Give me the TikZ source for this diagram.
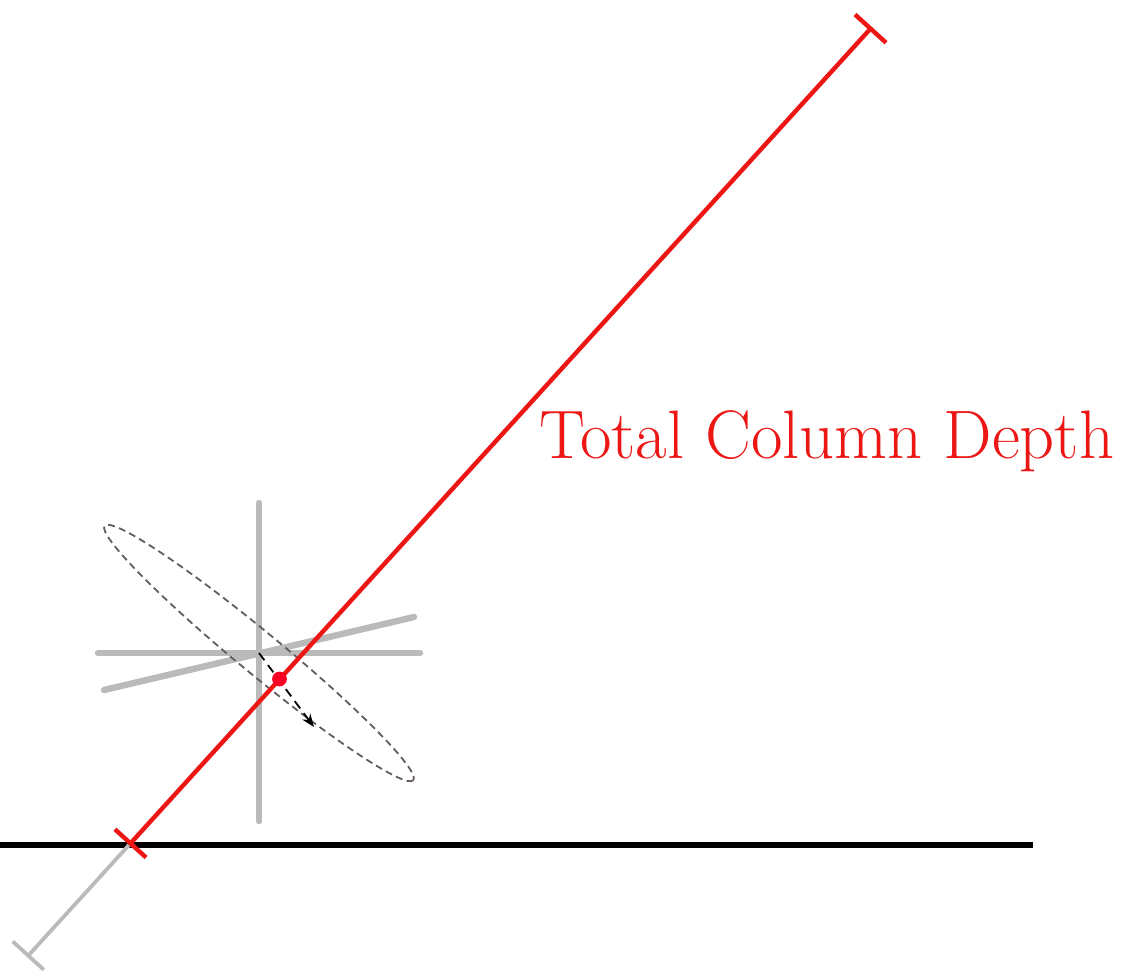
\documentclass[tikz,border=0pt]{standalone}
\usetikzlibrary{arrows.meta}
\definecolor{myred}{RGB}{236,22,20}
\definecolor{dotred}{RGB}{250,0,35}
\definecolor{lgray}{RGB}{186,186,186}
\definecolor{egray}{RGB}{100,92,92}
\begin{document}
\begin{tikzpicture}[x=0.5pt,y=-0.5pt,
  crossline/.style={lgray,line width=3.2pt,line cap=round},
  redline/.style={myred,line width=2.2pt},
  ellip/.style={egray,line width=0.9pt,dash pattern=on 3.5pt off 2.2pt},
  darrow/.style={black,line width=0.9pt,dash pattern=on 4.5pt off 3pt,-{Stealth[length=6.5pt,width=5pt]}}]
\useasboundingbox (0,0) rectangle (1123,975);
% coordinates
\coordinate (C) at (259,653);
\coordinate (V1) at (259,503);
\coordinate (V2) at (259,821);
\coordinate (H1) at (98,653);
\coordinate (H2) at (420,653);
\coordinate (S1) at (104,690);
\coordinate (S2) at (414,617);
\coordinate (G) at (129,845);
\coordinate (T) at (872,27);
\coordinate (B) at (27,957);
\coordinate (A) at (314,727);
\coordinate (P) at (279.5,679);
\coordinate (L1) at (0,845);
\coordinate (L2) at (1033,845);
% gray cross
\draw[crossline] (V1) -- (V2);
\draw[crossline] (H1) -- (H2);
\draw[crossline] (S1) -- (S2);
% ellipse
\draw[ellip] (C) ellipse [x radius=200, y radius=21, rotate=-39.5];
% arrow
\draw[darrow] (C) -- (A);
% ground
\draw[black,line width=3.2pt] (L1) -- (L2);
% gray extension
\draw[lgray,line width=1.9pt,-{Bar[width=21pt]}] (G) -- (B);
% red column
\draw[redline,{Bar[width=21pt]}-{Bar[width=21pt]}] (G) -- (T);
\fill[dotred] (P) circle (3.7pt);
\node[myred,font=\fontsize{34.3}{41}\selectfont] (lab) at (827,441) {Total Column Depth};
\end{tikzpicture}
\end{document}
